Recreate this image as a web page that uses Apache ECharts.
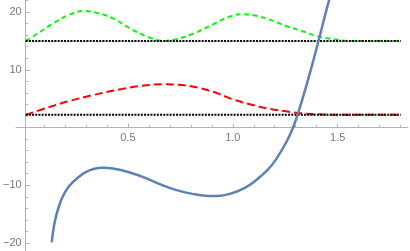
<!DOCTYPE html>
<html><head><meta charset="utf-8">
<script src="https://cdn.jsdelivr.net/npm/echarts@6/dist/echarts.min.js"></script>
<style>html,body{margin:0;padding:0;background:#fff}#c{width:410px;height:251px}</style>
</head><body><div id="c"></div>
<script>
// ---- data ----
const blueX = [0.125,0.14,0.16,0.18,0.21,0.25,0.29,0.33,0.37,0.42,0.5,0.58,0.65,0.72,0.8,0.88,0.92,0.98,1.05,1.1,1.16,1.2,1.25,1.28,1.305,1.35,1.405,1.43,1.46];
const blueY = [-19.9,-16.3,-13.6,-11.8,-10.1,-8.7,-7.7,-7.15,-6.98,-7.1,-7.8,-8.8,-9.9,-10.8,-11.5,-11.85,-11.85,-11.5,-10.5,-9.3,-7.4,-5.6,-2.6,-0.3,2.2,7.6,14.9,18.5,22.6];
const redX = [0,0.11,0.2,0.32,0.45,0.55,0.67,0.75,0.8,0.84,0.88,0.92,0.96,1.0,1.08,1.16,1.25,1.33,1.43,1.55,1.8];
const redY = [2.2,3.5,4.5,5.6,6.6,7.2,7.5,7.35,7.1,6.8,6.4,5.95,5.35,4.8,4.0,3.3,2.8,2.45,2.25,2.2,2.2];
const greenX = [0,0.07,0.13,0.2,0.28,0.35,0.42,0.5,0.58,0.66,0.72,0.8,0.9,0.97,1.04,1.1,1.17,1.25,1.32,1.4,1.48,1.56,1.8];
const greenY = [15,16.6,18.0,19.4,20.2,19.8,18.9,17.2,15.8,15.0,15.3,16.2,17.9,19.1,19.65,19.4,18.7,17.6,16.8,15.8,15.3,15.0,15.0];
const levelX = [0, 1.8];
const upperLevel = [15, 15];
const lowerLevel = [2.2, 2.2];
const xTickLabels = [0.5, 1.0, 1.5];
const xMinorTicks = [0.1,0.2,0.3,0.4,0.6,0.7,0.8,0.9,1.1,1.2,1.3,1.4,1.6,1.7,1.8];
const yTickLabels = [-20, -10, 10, 20];
const yMinorTicks = [-18,-16,-14,-12,-8,-6,-4,-2,2,4,6,8,12,14,16,18,22];

const pairs = (xs, ys) => xs.map((x, i) => [x, ys[i]]);
const axisColor = '#b3b3b3';
const labelStyle = {color: '#7a7a7a', fontSize: 11, fontFamily: 'Liberation Sans, Arial, sans-serif'};
const xMin = 0, xAxisStart = -0.033, xMax = 1.835, yMin = -21.4, yMax = 22.1;
const H = 251;
const zeroPx = H * yMax / (yMax - yMin);

const chart = echarts.init(document.getElementById('c'), null, {renderer: 'canvas'});
chart.setOption({
  animation: false,
  grid: [
    {left: 23, right: 2, top: 0, bottom: 0, containLabel: false},
    {left: 16, right: 2, top: 0, height: zeroPx, containLabel: false}
  ],
  xAxis: [
    {gridIndex: 0, type: 'value', min: xMin, max: xMax, show: false},
    {gridIndex: 1, type: 'value', min: xAxisStart, max: xMax, position: 'bottom',
     axisLine: {onZero: false, lineStyle: {color: axisColor, width: 1}},
     axisTick: {inside: true, length: 4, customValues: xTickLabels, lineStyle: {color: axisColor}},
     axisLabel: Object.assign({customValues: xTickLabels, margin: 5, formatter: v => v.toFixed(1)}, labelStyle),
     splitLine: {show: false}},
    {gridIndex: 1, type: 'value', min: xAxisStart, max: xMax, position: 'bottom',
     axisLine: {show: false, onZero: false},
     axisTick: {inside: true, length: 2.5, customValues: xMinorTicks, lineStyle: {color: axisColor}},
     axisLabel: {show: false}, splitLine: {show: false}}
  ],
  yAxis: [
    {gridIndex: 0, type: 'value', min: yMin, max: yMax, position: 'left',
     axisLine: {show: true, onZero: false, lineStyle: {color: axisColor, width: 1}},
     axisTick: {inside: true, length: 4, customValues: yTickLabels, lineStyle: {color: axisColor}},
     axisLabel: Object.assign({customValues: yTickLabels, margin: 4, formatter: v => (v < 0 ? '\u2212' + Math.abs(v) : String(v))}, labelStyle),
     splitLine: {show: false}},
    {gridIndex: 0, type: 'value', min: yMin, max: yMax, position: 'left',
     axisLine: {show: false, onZero: false},
     axisTick: {inside: true, length: 2.5, customValues: yMinorTicks, lineStyle: {color: axisColor}},
     axisLabel: {show: false}, splitLine: {show: false}},
    {gridIndex: 1, type: 'value', min: 0, max: 1, show: false}
  ],
  series: [
    {type: 'line', data: pairs(greenX, greenY), smooth: 0.4, showSymbol: false, xAxisIndex: 0, yAxisIndex: 0,
     lineStyle: {color: '#00ff00', width: 2, type: [5, 3.5], cap: 'butt'}},
    {type: 'line', data: pairs(redX, redY), smooth: 0.4, showSymbol: false, xAxisIndex: 0, yAxisIndex: 0,
     lineStyle: {color: '#ff0000', width: 2, type: [8, 4], cap: 'butt'}},
    {type: 'line', data: pairs(levelX, upperLevel), showSymbol: false, xAxisIndex: 0, yAxisIndex: 0,
     lineStyle: {color: '#000', width: 2, type: [2, 1.2], cap: 'butt'}},
    {type: 'line', data: pairs(levelX, lowerLevel), showSymbol: false, xAxisIndex: 0, yAxisIndex: 0,
     lineStyle: {color: '#000', width: 2, type: [2, 1.2], cap: 'butt'}},
    {type: 'line', data: pairs(blueX, blueY), smooth: 0.4, showSymbol: false, clip: true, xAxisIndex: 0, yAxisIndex: 0,
     lineStyle: {color: '#5e81b5', width: 2.5}}
  ]
});
</script></body></html>
